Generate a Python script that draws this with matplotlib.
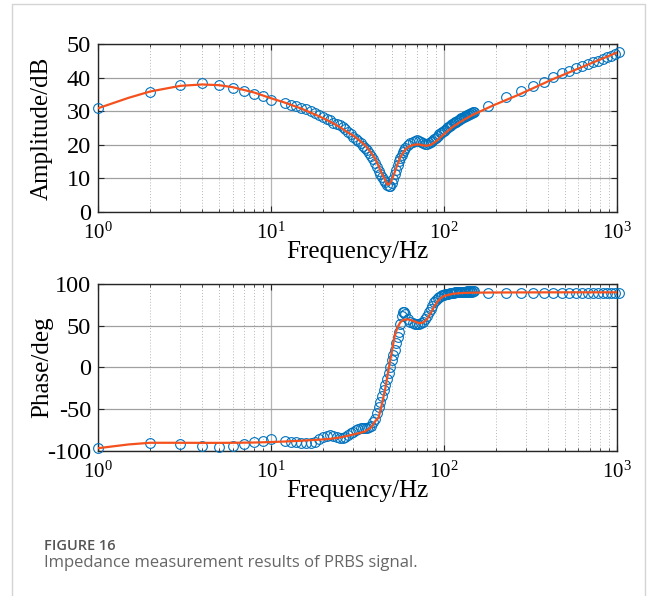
import math

import matplotlib
matplotlib.use("Agg")
import matplotlib.pyplot as plt
from matplotlib.patches import Rectangle
from matplotlib.ticker import FixedLocator, LogLocator, NullFormatter, FuncFormatter

plt.rcParams["font.family"] = ["Liberation Serif", "DejaVu Serif"]
plt.rcParams["mathtext.fontset"] = "custom"
plt.rcParams["mathtext.rm"] = "Liberation Serif"
plt.rcParams["mathtext.it"] = "Liberation Serif:italic"
plt.rcParams["mathtext.default"] = "regular"
plt.rcParams["axes.unicode_minus"] = False

# measured points (circles)
meas_freq = (list(range(1, 11)) + list(range(12, 61)) + list(range(62, 151, 2))
             + list(range(180, 1031, 50)))
meas_amp = [
    31.1, 35.8, 37.8, 38.3, 37.8, 36.9, 36.1, 35.2, 34.5, 33.4,
    32.4, 31.9, 31.5, 31.0, 30.6, 30.1, 29.6, 28.9, 28.2, 27.8,
    27.3, 26.6, 26.1, 25.8, 25.3, 24.6, 23.8, 23.1, 22.4, 21.7,
    21.1, 20.4, 19.7, 19.1, 18.4, 17.6, 16.7, 15.7, 14.6, 13.5,
    12.3, 11.3, 10.4, 9.6, 8.8, 8.1, 7.6, 7.8, 8.6, 9.8,
    11.2, 12.6, 13.9, 15.0, 16.0, 16.9, 17.7, 18.4, 19.0,
    19.8, 20.4, 20.9, 21.2, 21.3, 21.1, 20.7, 20.4, 20.2, 20.2,
    20.4, 20.7, 21.1, 21.6, 22.1, 22.6, 23.1, 23.5, 23.9, 24.2,
    24.5, 24.9, 25.2, 25.5, 25.8, 26.1, 26.4, 26.7, 26.9, 27.2,
    27.4, 27.7, 27.9, 28.1, 28.3, 28.5, 28.7, 28.9, 29.0, 29.2,
    29.3, 29.5, 29.6, 29.7, 29.8,
    31.6, 34.2, 36.0, 37.5, 38.8, 40.1, 41.3, 42.0, 42.8, 43.5,
    44.1, 44.6, 45.1, 45.6, 46.1, 46.6, 47.1, 47.7,
]
meas_phase = [
    -96.5, -90.5, -92.0, -94.5, -95.5, -94.5, -92.0, -90.0, -88.0, -86.0,
    -88.0, -89.0, -90.0, -91.0, -91.0, -90.5, -89.0, -86.5, -84.0, -82.0,
    -81.5, -82.5, -83.5, -84.5, -84.5, -83.0, -81.0, -79.0, -77.0, -75.5,
    -74.0, -73.0, -73.0, -73.0, -72.5, -71.5, -70.0, -66.0, -62.0, -55.0,
    -48.0, -41.0, -34.0, -27.0, -21.0, -14.0, -7.0, 1.0, 9.0, 15.0,
    21.0, 29.0, 36.0, 43.0, 52.0, 62.0, 66.0, 66.5, 64.0,
    58.0, 55.0, 53.0, 52.0, 51.5, 52.0, 53.0, 55.0, 58.5, 62.0,
    66.0, 70.0, 74.0, 78.0, 81.0, 83.0, 85.0, 86.0, 86.5, 87.0,
    87.5, 88.0, 88.5, 89.0, 89.0, 89.5, 89.5, 90.0, 90.0, 90.5,
    90.5, 90.5, 91.0, 91.0, 91.0, 91.0, 91.0, 91.5, 91.0, 91.5,
    91.0, 91.5, 91.0, 91.5, 91.5,
    89.6, 89.8, 89.6, 89.7, 89.8, 89.6, 89.7, 89.8, 89.7, 89.8,
    89.7, 89.8, 89.7, 89.8, 89.8, 89.7, 89.8, 89.8,
]

# fitted model (red line)
fit_freq = [1, 1.5, 2, 3, 4, 5, 6, 8, 10, 12, 15, 19, 22, 25, 28, 30, 33, 35, 38, 40,
            42, 44, 46, 47.5, 49, 50, 52, 54, 56, 58, 60, 63, 67, 72, 76, 80, 84, 88,
            92, 96, 100, 113, 130, 148, 194, 273, 428, 671, 1000]
fit_amp = [30.9, 34.0, 35.9, 37.6, 38.0, 37.8, 37.2, 35.6, 33.9, 32.6, 30.8, 28.5, 26.9,
           25.3, 23.6, 22.7, 21.0, 19.9, 17.6, 15.9, 13.6, 11.2, 9.2, 8.0, 8.6, 9.5,
           11.8, 14.2, 16.2, 17.6, 18.6, 19.5, 20.0, 20.1, 19.8, 19.7, 20.0, 20.6,
           21.4, 22.3, 23.1, 25.4, 27.4, 29.0, 31.8, 35.0, 39.6, 43.8, 47.5]
fit_phase = [-97.0, -92.5, -90.5, -90.5, -90.6, -90.6, -90.5, -90.2, -89.6, -89.0,
             -88.0, -86.8, -85.8, -84.2, -82.0, -80.5, -78.5, -77.0, -72.0, -65.0,
             -60.0, -43.0, -24.0, -7.0, 9.0, 18.0, 38.0, 48.0, 54.0, 56.5, 57.5, 57.3,
             55.5, 53.0, 53.8, 58.0, 65.0, 73.0, 79.0, 83.0, 85.5, 88.3, 89.3, 89.6,
             89.8, 89.9, 90.0, 90.0, 90.0]

amp_ticks = [0, 10, 20, 30, 40, 50]
phase_ticks = [-100, -50, 0, 50, 100]

BLUE = "#0072BD"
RED = "#F4511E"

W, H = 656, 596
fig = plt.figure(figsize=(W / 100, H / 100), dpi=100)


def px_axes(left, top, right, bottom):
    return fig.add_axes([left / W, 1 - bottom / H, (right - left) / W, (bottom - top) / H])


def style_axes(ax, yticks, ylabel):
    ax.set_xscale("log")
    ax.set_xlim(1, 1000)
    ax.set_ylim(yticks[0], yticks[-1])
    ax.yaxis.set_major_locator(FixedLocator(yticks))
    ax.xaxis.set_major_locator(LogLocator(base=10, numticks=10))
    ax.xaxis.set_minor_locator(LogLocator(base=10, subs=range(2, 10), numticks=20))
    ax.xaxis.set_minor_formatter(NullFormatter())
    ax.xaxis.set_major_formatter(FuncFormatter(lambda v, p: r"$10^{%d}$" % round(math.log10(v))))
    ax.grid(True, which="major", axis="y", color="#a0a0a0", lw=0.9)
    ax.grid(True, which="major", axis="x", color="#b4b4b4", lw=0.9)
    ax.grid(True, which="minor", axis="x", color="#b8b8b8", lw=0.7, ls=(0, (1, 2)))
    ax.tick_params(which="both", direction="in", top=True, right=True, color="#262626")
    ax.tick_params(which="major", length=4, width=0.8)
    ax.tick_params(which="minor", length=2.5, width=0.6)
    ax.tick_params(axis="y", labelsize=17.5, pad=5)
    ax.tick_params(axis="x", labelsize=15, pad=8)
    for s in ax.spines.values():
        s.set_color("#262626")
        s.set_linewidth(1.0)
    ax.set_xlabel("Frequency/Hz", fontsize=18)
    ax.set_ylabel(ylabel, fontsize=18)
    ax.xaxis.set_label_coords(0.5, -0.175)
    ax.yaxis.set_label_coords(-0.087, 0.5)
    ax.set_axisbelow(True)


ax1 = px_axes(98, 44.3, 616.7, 211.7)
ax1.plot(meas_freq, meas_amp, "o", mfc="none", mec=BLUE, ms=7, mew=0.8, clip_on=False, zorder=3)
ax1.plot(fit_freq, fit_amp, color=RED, lw=1.6, zorder=4)
style_axes(ax1, amp_ticks, "Amplitude/dB")

ax2 = px_axes(98, 284, 616.7, 450.7)
ax2.plot(meas_freq, meas_phase, "o", mfc="none", mec=BLUE, ms=7, mew=0.8, clip_on=False, zorder=3)
ax2.plot(fit_freq, fit_phase, color=RED, lw=1.6, zorder=4)
style_axes(ax2, phase_ticks, "Phase/deg")

fig.patches.append(Rectangle((12 / W, -0.02), (645 - 12) / W, 1 - 4 / H + 0.02,
                             transform=fig.transFigure, fill=False, ec="#d4d4d4", lw=1))
fig.text(44 / W, 1 - 546 / H, "FIGURE 16", fontsize=10.5, fontweight="semibold",
         color="#555555", family="Open Sans", va="center")
fig.text(44 / W, 1 - 563 / H, "Impedance measurement results of PRBS signal.", fontsize=12,
         color="#666666", family="Open Sans", va="center")

fig.savefig("out.png", dpi=100)
